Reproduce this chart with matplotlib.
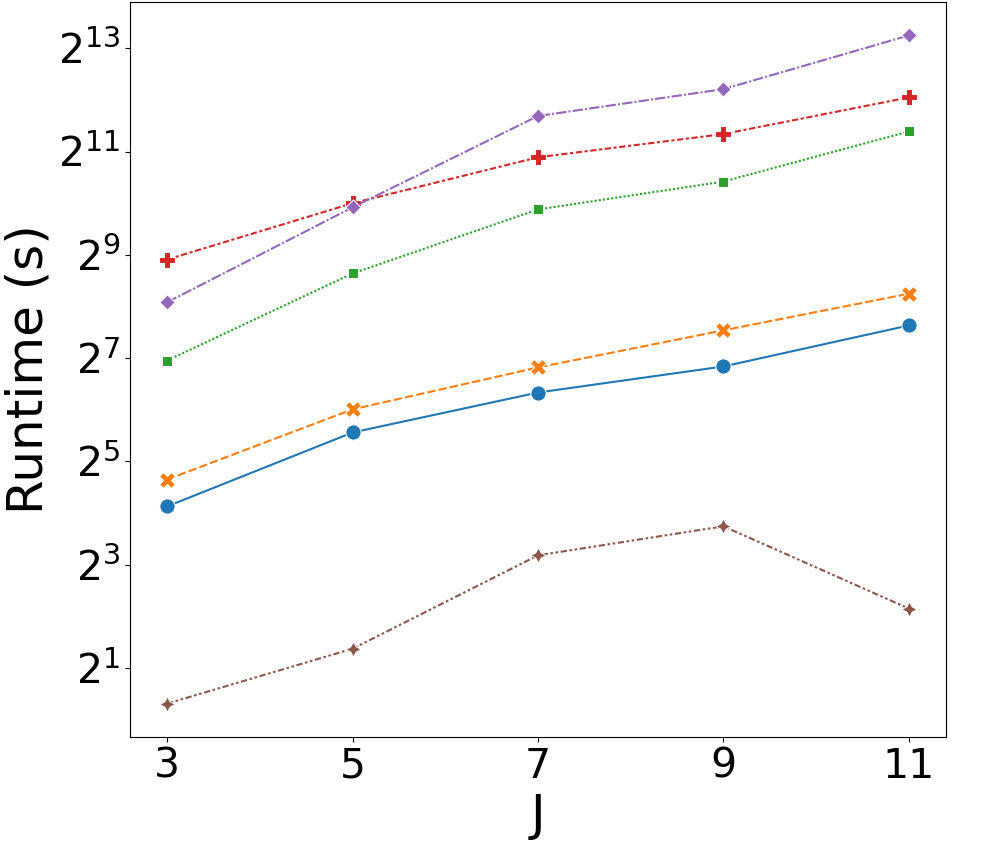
import numpy as np
import pandas as pd
import seaborn as sns
import matplotlib
matplotlib.use("Agg")
import matplotlib.pyplot as plt
from matplotlib.ticker import NullLocator

# J values on the x axis
J = [3, 5, 7, 9, 11]

# runtimes in seconds
method_a = [17.5, 47.2, 80.7, 114.5, 198.6]
method_b = [25.1, 64.4, 113.0, 186.0, 304.0]
method_c = [124.0, 399.0, 942.0, 1370.0, 2684.0]
method_d = [481.0, 1024.0, 1898.0, 2592.0, 4240.0]
method_e = [271.0, 969.0, 3304.0, 4738.0, 9741.0]
method_f = [1.24, 2.59, 9.07, 13.4, 4.44]

methods = ["A", "B", "C", "D", "E", "F"]
runtimes = [method_a, method_b, method_c, method_d, method_e, method_f]

rows = []
for name, vals in zip(methods, runtimes):
    for j, t in zip(J, vals):
        rows.append({"J": j, "Runtime": t, "Method": name})
df = pd.DataFrame(rows)

fig, ax = plt.subplots(figsize=(9.82, 8.42), dpi=100)
sns.lineplot(data=df, x="J", y="Runtime", hue="Method", style="Method",
             markers=True, dashes=True, markersize=11, linewidth=1.5,
             legend=False, ax=ax)

ax.set_yscale("log", base=2)
ax.set_yticks([2 ** e for e in [1, 3, 5, 7, 9, 11, 13]])
ax.yaxis.set_minor_locator(NullLocator())
ax.set_xticks(J)
ax.tick_params(axis="both", labelsize=29.5)
ax.set_xlabel("J", fontsize=36)
ax.set_ylabel("Runtime (s)", fontsize=36)

fig.subplots_adjust(left=0.1324, right=0.9633, bottom=0.1247, top=0.9976)
fig.savefig("out.png", dpi=100)
